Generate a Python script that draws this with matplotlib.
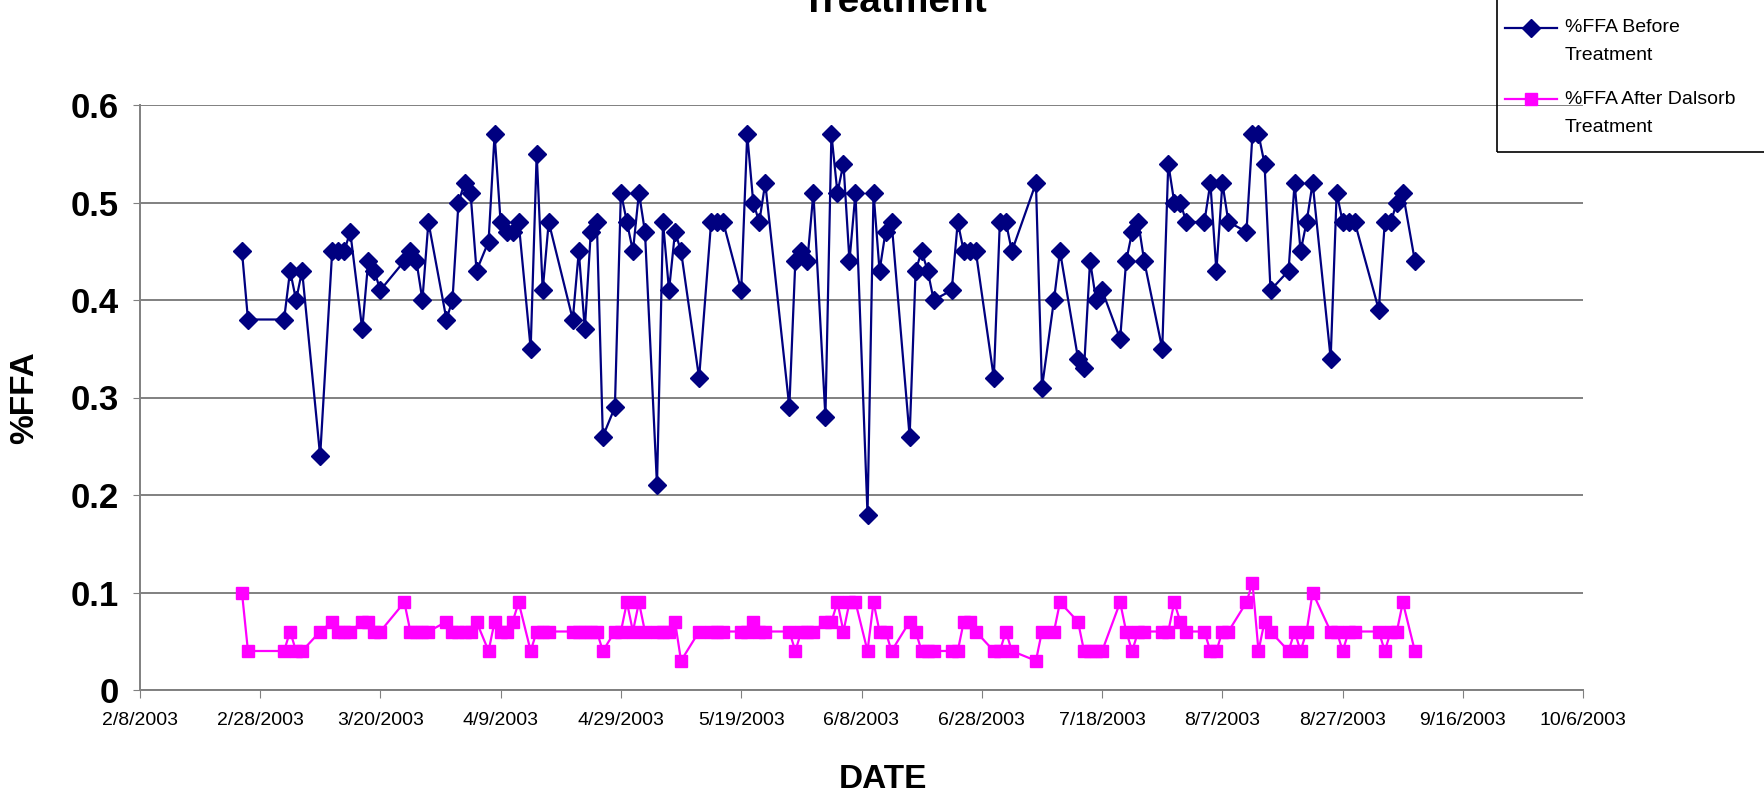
import matplotlib
matplotlib.use('Agg')
import matplotlib.pyplot as plt
import matplotlib.dates as mdates
from matplotlib.lines import Line2D
from matplotlib.patches import Rectangle
import pandas as pd
import numpy as np

plt.rcParams['font.family'] = ['Liberation Sans', 'DejaVu Sans']

# sample dates (2003) and %FFA before / after Dalsorb treatment
dates = ['2/25', '2/26', '3/4', '3/5', '3/6', '3/7', '3/10', '3/12', '3/13', '3/14',
         '3/15', '3/17', '3/18', '3/19', '3/20', '3/24', '3/25', '3/26', '3/27', '3/28',
         '3/31', '4/1', '4/2', '4/3', '4/4', '4/5', '4/7', '4/8', '4/9', '4/10',
         '4/11', '4/12', '4/14', '4/15', '4/16', '4/17', '4/21', '4/22', '4/23', '4/24',
         '4/25', '4/26', '4/28', '4/29', '4/30', '5/1', '5/2', '5/3', '5/5', '5/6',
         '5/7', '5/8', '5/9', '5/12', '5/14', '5/15', '5/16', '5/19', '5/20', '5/21',
         '5/22', '5/23', '5/27', '5/28', '5/29', '5/30', '5/31', '6/2', '6/3', '6/4',
         '6/5', '6/6', '6/7', '6/9', '6/10', '6/11', '6/12', '6/13', '6/16', '6/17',
         '6/18', '6/19', '6/20', '6/23', '6/24', '6/25', '6/26', '6/27', '6/30', '7/1',
         '7/2', '7/3', '7/7', '7/8', '7/10', '7/11', '7/14', '7/15', '7/16', '7/17',
         '7/18', '7/21', '7/22', '7/23', '7/24', '7/25', '7/28', '7/29', '7/30', '7/31',
         '8/1', '8/4', '8/5', '8/6', '8/7', '8/8', '8/11', '8/12', '8/13', '8/14',
         '8/15', '8/18', '8/19', '8/20', '8/21', '8/22', '8/25', '8/26', '8/27', '8/28',
         '8/29', '9/2', '9/3', '9/4', '9/5', '9/6', '9/8']

before = [0.45, 0.38, 0.38, 0.43, 0.40, 0.43, 0.24, 0.45, 0.45, 0.45,
          0.47, 0.37, 0.44, 0.43, 0.41, 0.44, 0.45, 0.44, 0.40, 0.48,
          0.38, 0.40, 0.50, 0.52, 0.51, 0.43, 0.46, 0.57, 0.48, 0.47,
          0.47, 0.48, 0.35, 0.55, 0.41, 0.48, 0.38, 0.45, 0.37, 0.47,
          0.48, 0.26, 0.29, 0.51, 0.48, 0.45, 0.51, 0.47, 0.21, 0.48,
          0.41, 0.47, 0.45, 0.32, 0.48, 0.48, 0.48, 0.41, 0.57, 0.50,
          0.48, 0.52, 0.29, 0.44, 0.45, 0.44, 0.51, 0.28, 0.57, 0.51,
          0.54, 0.44, 0.51, 0.18, 0.51, 0.43, 0.47, 0.48, 0.26, 0.43,
          0.45, 0.43, 0.40, 0.41, 0.48, 0.45, 0.45, 0.45, 0.32, 0.48,
          0.48, 0.45, 0.52, 0.31, 0.40, 0.45, 0.34, 0.33, 0.44, 0.40,
          0.41, 0.36, 0.44, 0.47, 0.48, 0.44, 0.35, 0.54, 0.50, 0.50,
          0.48, 0.48, 0.52, 0.43, 0.52, 0.48, 0.47, 0.57, 0.57, 0.54,
          0.41, 0.43, 0.52, 0.45, 0.48, 0.52, 0.34, 0.51, 0.48, 0.48,
          0.48, 0.39, 0.48, 0.48, 0.50, 0.51, 0.44]

after = [0.10, 0.04, 0.04, 0.06, 0.04, 0.04, 0.06, 0.07, 0.06, 0.06,
         0.06, 0.07, 0.07, 0.06, 0.06, 0.09, 0.06, 0.06, 0.06, 0.06,
         0.07, 0.06, 0.06, 0.06, 0.06, 0.07, 0.04, 0.07, 0.06, 0.06,
         0.07, 0.09, 0.04, 0.06, 0.06, 0.06, 0.06, 0.06, 0.06, 0.06,
         0.06, 0.04, 0.06, 0.06, 0.09, 0.06, 0.09, 0.06, 0.06, 0.06,
         0.06, 0.07, 0.03, 0.06, 0.06, 0.06, 0.06, 0.06, 0.06, 0.07,
         0.06, 0.06, 0.06, 0.04, 0.06, 0.06, 0.06, 0.07, 0.07, 0.09,
         0.06, 0.09, 0.09, 0.04, 0.09, 0.06, 0.06, 0.04, 0.07, 0.06,
         0.04, 0.04, 0.04, 0.04, 0.04, 0.07, 0.07, 0.06, 0.04, 0.04,
         0.06, 0.04, 0.03, 0.06, 0.06, 0.09, 0.07, 0.04, 0.04, 0.04,
         0.04, 0.09, 0.06, 0.04, 0.06, 0.06, 0.06, 0.06, 0.09, 0.07,
         0.06, 0.06, 0.04, 0.04, 0.06, 0.06, 0.09, 0.11, 0.04, 0.07,
         0.06, 0.04, 0.06, 0.04, 0.06, 0.10, 0.06, 0.06, 0.04, 0.06,
         0.06, 0.06, 0.04, 0.06, 0.06, 0.09, 0.04]

labels = ['%FFA Before\nTreatment', '%FFA After Dalsorb\nTreatment']
navy = '#000080'
pink = '#FF00FF'

x = pd.to_datetime([d + '/2003' for d in dates], format='%m/%d/%Y')

W, H = 1765, 796
fig = plt.figure(figsize=(W / 100, H / 100), dpi=100)
ax = fig.add_axes([139.7 / W, 1 - 690 / H, (1583.3 - 139.7) / W, (690 - 105) / H])

ax.plot(x, before, color=navy, marker='D', markersize=9, linewidth=1.6, zorder=3)
ax.plot(x, after, color=pink, marker='s', markersize=8.5, linewidth=1.6, zorder=3)

# axis ranges / ticks (Excel style, every 20 days)
x0 = pd.Timestamp('2003-02-08')
ticks = pd.date_range(x0, periods=13, freq='20D')
ax.set_xlim(mdates.date2num(ticks[0]), mdates.date2num(ticks[-1]))
ax.set_xticks(mdates.date2num(ticks))
ax.set_xticklabels(['%d/%d/%d' % (t.month, t.day, t.year) for t in ticks], fontsize=14)

ax.set_ylim(0, 0.6)
yt = np.arange(0, 0.61, 0.1)
ax.set_yticks(yt)
ax.set_yticklabels(['0'] + ['%.1f' % v for v in yt[1:]], fontsize=25, fontweight='bold')

ax.yaxis.grid(True, color='#808080', linewidth=1.4)
ax.set_axisbelow(True)
for s in ['top', 'right']:
    ax.spines[s].set_visible(False)
for s in ['left', 'bottom']:
    ax.spines[s].set_color('#808080')
    ax.spines[s].set_linewidth(1.4)
ax.tick_params(axis='x', direction='out', length=6, color='#808080', pad=10)
ax.tick_params(axis='y', direction='out', length=5, color='#808080', pad=10)

fig.text(0.5, 1 - 779 / H, 'DATE', fontsize=24, fontweight='bold', ha='center', va='center')
fig.text(25 / W, 1 - 398 / H, '%FFA', fontsize=24, fontweight='bold', ha='center', va='center',
         rotation=90)
# title: only its last line shows, cut by the top edge as in the original
fig.text(895 / W, 1 - 12 / H, 'Treatment', fontsize=28, fontweight='bold', ha='center',
         va='baseline')

# legend box, clipped by the top and right edge like the original
fig.add_artist(Rectangle((1497 / W, 1 - 152 / H), 0.3, 0.3, transform=fig.transFigure,
                         fill=False, edgecolor='black', linewidth=1.2))
for yy, col, mk, ms, lab in [(28, navy, 'D', 9, labels[0]), (99, pink, 's', 8.5, labels[1])]:
    fy = 1 - yy / H
    fig.add_artist(Line2D([1505 / W, 1557 / W], [fy, fy], transform=fig.transFigure,
                          color=col, linewidth=1.6))
    fig.add_artist(Line2D([1531 / W], [fy], transform=fig.transFigure, color=col,
                          marker=mk, markersize=ms, linestyle='none'))
    first, second = lab.split('\n')
    fig.text(1565 / W, fy, first, fontsize=14, va='center', ha='left')
    fig.text(1565 / W, 1 - (yy + 28) / H, second, fontsize=14, va='center', ha='left')

fig.savefig('out.png', dpi=100)
